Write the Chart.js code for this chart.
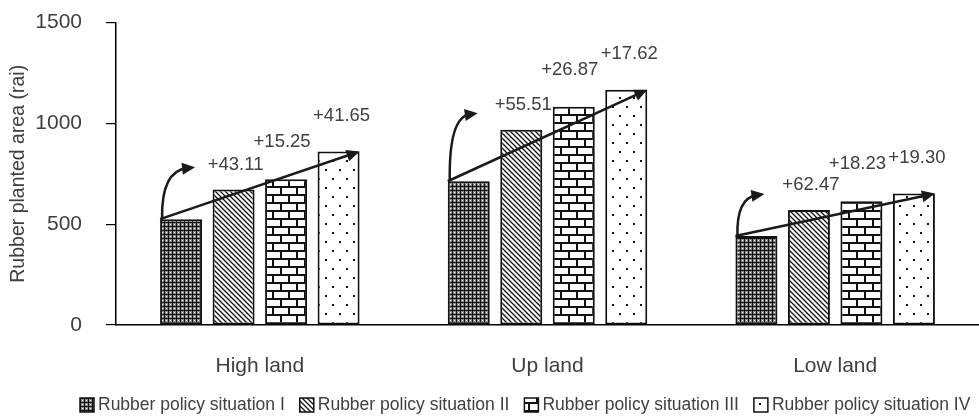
<!DOCTYPE html>
<html>
<head>
<meta charset="utf-8">
<script src="https://cdn.jsdelivr.net/npm/chart.js@4.4.1/dist/chart.umd.min.js"></script>
<style>
  html, body { margin: 0; padding: 0; background: #fff; }
  #wrap { width: 979px; height: 418px; position: relative; overflow: hidden; }
  #chart { position: absolute; left: 0; top: -14px; }
</style>
</head>
<body>
<div id="wrap"><canvas id="chart" width="979" height="432"></canvas></div>
<script>
// Dados
const categories = ['High land', 'Up land', 'Low land'];
const seriesNames = [
  'Rubber policy situation I',
  'Rubber policy situation II',
  'Rubber policy situation III',
  'Rubber policy situation IV'
];
const situationI = [525, 713, 441];
const situationII = [672, 969, 571];
const situationIII = [723, 1083, 614];
const situationIV = [861, 1167, 652];
const yTicks = [0, 500, 1000, 1500];
// rótulos de variação (%), por categoria: II, III, IV
const changeLabels = [
  ['+43.11', '+15.25', '+41.65'],
  ['+55.51', '+26.87', '+17.62'],
  ['+62.47', '+18.23', '+19.30']
];

const TEXT = '#404040';
const FONT = "'Liberation Sans', Arial, sans-serif";

// Cria padrões de preenchimento
function makePattern(w, h, draw) {
  const c = document.createElement('canvas');
  c.width = w; c.height = h;
  const g = c.getContext('2d');
  draw(g);
  return g.createPattern(c, 'repeat');
}

const patMesh = makePattern(4, 4, g => {
  g.fillStyle = '#8a8a8a'; g.fillRect(0, 0, 4, 4);
  g.fillStyle = '#111'; g.fillRect(0, 0, 4, 1); g.fillRect(0, 0, 1, 4);
  g.fillStyle = '#fff'; g.fillRect(2, 2, 1, 1);
});
const patDiag = makePattern(5, 5, g => {
  g.fillStyle = '#fff'; g.fillRect(0, 0, 5, 5);
  g.strokeStyle = '#111'; g.lineWidth = 1.3;
  g.beginPath();
  g.moveTo(-1, -1); g.lineTo(6, 6);
  g.moveTo(-1, 4); g.lineTo(1, 6);
  g.moveTo(4, -1); g.lineTo(6, 1);
  g.stroke();
});
const patBrick = makePattern(16, 16, g => {
  g.fillStyle = '#fff'; g.fillRect(0, 0, 16, 16);
  g.fillStyle = '#111';
  g.fillRect(0, 0, 16, 2); g.fillRect(0, 8, 16, 2);
  g.fillRect(0, 0, 2, 8); g.fillRect(8, 8, 2, 8);
});
const patDots = makePattern(14, 18, g => {
  g.fillStyle = '#fff'; g.fillRect(0, 0, 14, 18);
  g.fillStyle = '#111';
  g.fillRect(3, 3, 2, 2); g.fillRect(10, 12, 2, 2);
});
const patterns = [patMesh, patDiag, patBrick, patDots];
const seriesData = [situationI, situationII, situationIII, situationIV];

// Desenha setas e rótulos de variação
const annotatePlugin = {
  id: 'annotate',
  afterDatasetsDraw(chart) {
    const ctx = chart.ctx;
    const metas = [0, 1, 2, 3].map(i => chart.getDatasetMeta(i).data);
    const curveTips = [[35, -52], [30, -68], [29, -42]];
    const labelDx = [2, -4, 3];
    const labelDy = [25, 37, 36];

    function head(x, y, ang) {
      const L = 13, W = 6;
      ctx.beginPath();
      ctx.moveTo(x, y);
      ctx.lineTo(x - L * Math.cos(ang) + W * Math.sin(ang), y - L * Math.sin(ang) - W * Math.cos(ang));
      ctx.lineTo(x - L * Math.cos(ang) - W * Math.sin(ang), y - L * Math.sin(ang) + W * Math.cos(ang));
      ctx.closePath();
      ctx.fill();
    }

    ctx.save();
    ctx.strokeStyle = '#1a1a1a';
    ctx.fillStyle = '#1a1a1a';
    ctx.lineWidth = 2.5;
    categories.forEach((cat, i) => {
      const b0 = metas[0][i], b3 = metas[3][i];
      const x0 = b0.x - b0.width / 2, y0 = b0.y;
      const x1 = b3.x + b3.width / 2, y1 = b3.y;
      const ang = Math.atan2(y1 - y0, x1 - x0);
      // seta reta
      ctx.beginPath();
      ctx.moveTo(x0, y0);
      ctx.lineTo(x1 - 8 * Math.cos(ang), y1 - 8 * Math.sin(ang));
      ctx.stroke();
      head(x1, y1, ang);
      // seta curva
      const tx = x0 + curveTips[i][0], ty = y0 + curveTips[i][1];
      const cx = x0 + 1, cy = ty + 4;
      const a2 = Math.atan2(ty - cy, tx - cx);
      ctx.beginPath();
      ctx.moveTo(x0 + 2, y0);
      ctx.quadraticCurveTo(cx, cy, tx - 8 * Math.cos(a2), ty - 8 * Math.sin(a2));
      ctx.stroke();
      head(tx, ty, a2);
      // rótulos
      ctx.font = '18.5px ' + FONT;
      ctx.fillStyle = TEXT;
      ctx.textAlign = 'center';
      ctx.textBaseline = 'middle';
      changeLabels[i].forEach((lab, k) => {
        const b = metas[k + 1][i];
        ctx.fillText(lab, b.x + labelDx[k], b.y - labelDy[k]);
      });
      ctx.fillStyle = '#1a1a1a';
    });
    ctx.restore();
  }
};

// Legenda desenhada manualmente (transborda à direita como no original)
const legendPlugin = {
  id: 'manualLegend',
  afterDraw(chart) {
    const ctx = chart.ctx;
    ctx.save();
    ctx.font = '17.5px ' + FONT;
    ctx.textBaseline = 'middle';
    let x = 80;
    const y = 419;
    seriesNames.forEach((name, i) => {
      ctx.fillStyle = patterns[i];
      ctx.fillRect(x, y - 7, 14, 14);
      ctx.strokeStyle = '#111';
      ctx.lineWidth = 1.5;
      ctx.strokeRect(x, y - 7, 14, 14);
      ctx.fillStyle = TEXT;
      ctx.fillText(name, x + 18, y);
      x += 18 + ctx.measureText(name).width + 15;
    });
    ctx.restore();
  }
};

new Chart(document.getElementById('chart'), {
  type: 'bar',
  data: {
    labels: categories,
    datasets: seriesData.map((d, i) => ({
      label: seriesNames[i],
      data: d,
      backgroundColor: patterns[i],
      borderColor: '#111',
      borderWidth: 2,
      borderSkipped: false,
      categoryPercentage: 0.73,
      barPercentage: 0.8
    }))
  },
  options: {
    responsive: false,
    animation: false,
    layout: { padding: { top: 10, right: 0, bottom: 0, left: 0 } },
    plugins: {
      legend: { display: false },
      tooltip: { enabled: false }
    },
    scales: {
      x: {
        grid: { display: false, drawTicks: false },
        border: { display: true, color: '#000', width: 1.5 },
        ticks: { color: TEXT, font: { family: FONT, size: 21 }, padding: 29 },
        afterFit(scale) { scale.height = 93; }
      },
      y: {
        min: 0,
        max: 1500,
        afterBuildTicks(scale) { scale.ticks = yTicks.map(v => ({ value: v })); },
        grid: { display: true, drawOnChartArea: false, drawTicks: true, tickLength: 10, color: '#000', lineWidth: 1.2 },
        border: { display: true, color: '#000', width: 1.5 },
        ticks: {
          color: TEXT,
          font: { family: FONT, size: 21 },
          padding: 24,
          callback: v => String(v)
        },
        title: {
          display: true,
          text: 'Rubber planted area (rai)',
          color: TEXT,
          font: { family: FONT, size: 19.5 },
          padding: { top: 7, bottom: 0 }
        },
        afterFit(scale) { scale.width = 116; }
      }
    }
  },
  plugins: [annotatePlugin, legendPlugin]
});
</script>
</body>
</html>
